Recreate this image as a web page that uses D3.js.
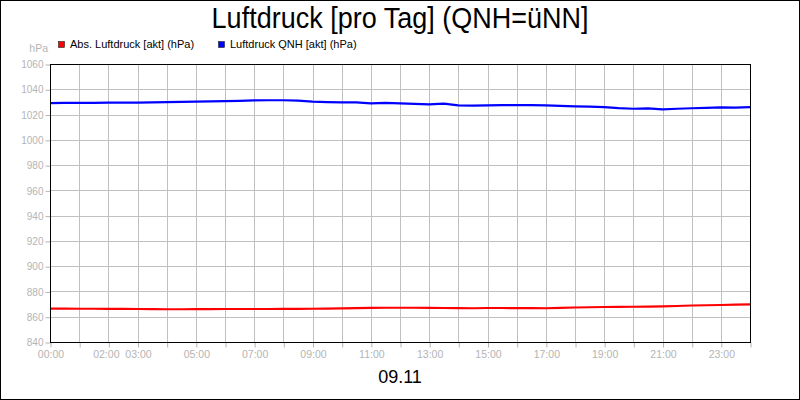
<!DOCTYPE html>
<html>
<head>
<meta charset="utf-8">
<script src="https://cdn.jsdelivr.net/npm/d3@7"></script>
<style>
    body { margin: 0; background: #fff; }
    text { font-family: "Liberation Sans", Arial, sans-serif; }
</style>
</head>
<body>
<div class="chart"></div>
<script>
//Time of day in hours (every half hour)
const hours = [0, 0.5, 1, 1.5, 2, 2.5, 3, 3.5, 4, 4.5, 5, 5.5, 6, 6.5, 7, 7.5, 8, 8.5,
    9, 9.5, 10, 10.5, 11, 11.5, 12, 12.5, 13, 13.5, 14, 14.5, 15, 15.5, 16, 16.5,
    17, 17.5, 18, 18.5, 19, 19.5, 20, 20.5, 21, 21.5, 22, 22.5, 23, 23.5, 24];

//Abs. Luftdruck (hPa)
const absPressure = [866.4, 866.4, 866.3, 866.3, 866.2, 866.2, 866.1, 866.0, 865.9, 865.9,
    866.0, 866.0, 866.1, 866.1, 866.1, 866.1, 866.2, 866.2, 866.3, 866.4, 866.6, 866.8,
    867.0, 867.1, 867.1, 867.1, 867.0, 866.9, 866.8, 866.7, 866.9, 866.9, 866.8, 866.8,
    866.7, 867.0, 867.3, 867.5, 867.7, 867.8, 867.9, 868.0, 868.2, 868.5, 868.9, 869.1,
    869.3, 869.5, 869.8];

//Luftdruck QNH (hPa)
const qnhPressure = [1029.1, 1029.2, 1029.3, 1029.3, 1029.4, 1029.4, 1029.5, 1029.6, 1029.8,
    1030.0, 1030.2, 1030.4, 1030.6, 1030.8, 1031.2, 1031.3, 1031.3, 1031.0, 1030.3, 1029.9,
    1029.7, 1029.6, 1028.8, 1029.2, 1028.8, 1028.5, 1028.1, 1028.6, 1027.2, 1027.0, 1027.2,
    1027.4, 1027.5, 1027.5, 1027.2, 1026.8, 1026.4, 1026.2, 1025.9, 1025.1, 1024.6, 1024.9,
    1024.1, 1024.6, 1025.0, 1025.3, 1025.6, 1025.5, 1025.9];

//Axis ticks and labels
const yTicks = [840, 860, 880, 900, 920, 940, 960, 980, 1000, 1020, 1040, 1060];
const xTicks = [0, 1, 2, 3, 4, 5, 6, 7, 8, 9, 10, 11, 12, 13, 14, 15, 16, 17, 18, 19, 20, 21, 22, 23, 24];
const xLabels = ["00:00", "", "02:00", "03:00", "", "05:00", "", "07:00", "", "09:00", "", "11:00", "",
    "13:00", "", "15:00", "", "17:00", "", "19:00", "", "21:00", "", "23:00", ""];

const seriesNames = ["Abs. Luftdruck [akt] (hPa)", "Luftdruck QNH [akt] (hPa)"];
const seriesColors = ["#ff0000", "#0000ff"];

//Width and height
var w = 800;
var h = 400;
var plot = { left: 50, right: 750, top: 64, bottom: 342 };
var gray = "#b4b4b4";

//Create SVG element
var svg = d3.select(".chart")
    .append("svg")
    .attr("width", w)
    .attr("height", h);

svg.append("rect")
    .attr("width", w)
    .attr("height", h)
    .attr("fill", "#fff");

//Scales
var xScale = d3.scaleLinear()
    .domain([0, 24])
    .range([plot.left, plot.right]);

var yScale = d3.scaleLinear()
    .domain([840, 1060])
    .range([plot.bottom, plot.top]);

//Grid
svg.append("g")
    .selectAll("line")
    .data(yTicks)
    .join("line")
    .attr("x1", plot.left)
    .attr("x2", plot.right)
    .attr("y1", d => Math.round(yScale(d)) + 0.5)
    .attr("y2", d => Math.round(yScale(d)) + 0.5)
    .attr("stroke", "#c0c0c0");

svg.append("g")
    .selectAll("line")
    .data(xTicks)
    .join("line")
    .attr("x1", d => Math.round(xScale(d)) + 0.5)
    .attr("x2", d => Math.round(xScale(d)) + 0.5)
    .attr("y1", plot.top)
    .attr("y2", plot.bottom)
    .attr("stroke", "#c0c0c0");

//Axes
var yAxis = svg.append("g")
    .attr("transform", `translate(${plot.left + 0.5},0.5)`)
    .call(d3.axisLeft(yScale).tickValues(yTicks).tickSize(5).tickPadding(2).tickSizeOuter(0)
        .tickFormat(d3.format("d")));

var xAxis = svg.append("g")
    .attr("transform", `translate(0.5,${plot.bottom + 0.5})`)
    .call(d3.axisBottom(xScale).tickValues(xTicks).tickSize(5).tickPadding(3).tickSizeOuter(0)
        .tickFormat((d, i) => xLabels[i]));

[yAxis, xAxis].forEach(ax => {
    ax.select(".domain").remove();
    ax.selectAll(".tick line").attr("stroke", gray);
    ax.selectAll(".tick text")
        .attr("fill", gray)
        .style("font-family", "'Liberation Sans', Arial, sans-serif");
});
yAxis.selectAll(".tick text").style("font-size", "10px");
xAxis.selectAll(".tick text").style("font-size", "10.5px");
//02:00 label is pushed a little left in the original
xAxis.selectAll(".tick text").filter(d => d === 2).attr("dx", -3);

//Lines
var line = d3.line()
    .x(d => xScale(d[0]))
    .y(d => yScale(d[1]))
    .curve(d3.curveLinear);

[absPressure, qnhPressure].forEach((values, k) => {
    svg.append("path")
        .datum(hours.map((t, i) => [t, values[i]]))
        .attr("d", line)
        .attr("fill", "none")
        .attr("stroke", seriesColors[k])
        .attr("stroke-width", 2.2)
        .attr("stroke-linejoin", "round");
});

//Plot frame
svg.append("rect")
    .attr("x", plot.left + 0.5)
    .attr("y", plot.top + 0.5)
    .attr("width", plot.right - plot.left)
    .attr("height", plot.bottom - plot.top)
    .attr("fill", "none")
    .attr("stroke", "#000");

//Unit label
svg.append("text")
    .attr("x", 48)
    .attr("y", 52)
    .attr("text-anchor", "end")
    .attr("fill", gray)
    .style("font-size", "10.5px")
    .text("hPa");

//Legend
var legend = svg.append("g")
    .selectAll("g")
    .data(seriesNames)
    .join("g")
    .attr("transform", (d, i) => `translate(${[58, 218][i]},41)`);

legend.append("rect")
    .attr("x", 0.5)
    .attr("y", 0.5)
    .attr("width", 6)
    .attr("height", 6)
    .attr("fill", (d, i) => seriesColors[i])
    .attr("stroke", "#222")
    .attr("stroke-width", 0.6);

legend.append("text")
    .attr("x", 12)
    .attr("y", 7.3)
    .style("font-size", "11px")
    .text(d => d);

//Title
svg.append("text")
    .attr("transform", "translate(400,27.5) scale(1,1.12)")
    .attr("text-anchor", "middle")
    .style("font-size", "27px")
    .text("Luftdruck [pro Tag] (QNH=üNN]");

//Date label
svg.append("text")
    .attr("x", 400)
    .attr("y", 383)
    .attr("text-anchor", "middle")
    .style("font-size", "18px")
    .text("09.11");

//Outer border
svg.append("rect")
    .attr("x", 0.5)
    .attr("y", 0.5)
    .attr("width", w - 1)
    .attr("height", h - 1)
    .attr("fill", "none")
    .attr("stroke", "#000");
</script>
</body>
</html>
